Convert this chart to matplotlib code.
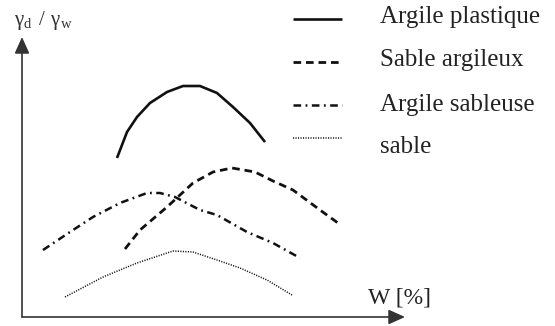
import matplotlib
matplotlib.use("Agg")
import matplotlib.pyplot as plt

plt.rcParams["lines.scale_dashes"] = False

# curves (x = water content, y = dry density, arbitrary units)
w_plast = [95, 105, 115, 128, 145, 161, 178, 195, 211, 228, 243]
g_plast = [159, 185, 200, 214, 225, 231, 231, 224, 210, 194, 175]

w_sab_arg = [103, 118, 145, 171, 191, 210, 233, 251, 271, 298, 316]
g_sab_arg = [68, 87, 110, 134, 145, 149, 145, 136, 127, 107, 94]

w_arg_sab = [21, 48, 71, 98, 125, 138, 153, 178, 195, 225, 251, 278]
g_arg_sab = [67, 85, 100, 114, 124, 124, 120, 107, 102, 85, 74, 59]

w_sable = [43, 81, 115, 151, 171, 195, 218, 245, 270]
g_sable = [20, 40, 54, 66, 65, 57, 49, 37, 22]

labels = ["Argile plastique", "Sable argileux", "Argile sableuse", "sable"]

styles = [
    dict(lw=1.9, linestyle="-"),
    dict(lw=2.0, dashes=(5.5, 3.5)),
    dict(lw=1.8, dashes=(5.5, 3.2, 1.3, 3.2)),
    dict(lw=1.1, dashes=(0.8, 1.0)),
]

fig = plt.figure(figsize=(5.55, 3.26), dpi=100)
ax = fig.add_axes([0, 0, 1, 1])
ax.set_xlim(-22, 533)
ax.set_ylim(-9, 317)
ax.axis("off")

ink = "#111111"
serif = "Liberation Serif"
series = [(w_plast, g_plast), (w_sab_arg, g_sab_arg),
          (w_arg_sab, g_arg_sab), (w_sable, g_sable)]
for (w, g), st in zip(series, styles):
    ax.plot(w, g, color=ink, solid_capstyle="butt", **st)

# axes with arrows
arrow = dict(arrowstyle="-|>,head_length=1.0,head_width=0.45",
             mutation_scale=10, lw=1.2, color="#333333",
             shrinkA=0, shrinkB=0)
ax.annotate("", xy=(383, 0), xytext=(0, 0), arrowprops=arrow)
ax.annotate("", xy=(0, 280), xytext=(0, 0), arrowprops=arrow)

ax.text(-8, 296, r"$\mathregular{\gamma_d\ /\ \gamma_w}$", fontsize=15,
        family=serif, color="#333333", ha="left", va="center")
ax.text(346, 19, "W [%]", fontsize=17, family=serif,
        color="#222222", ha="left", va="center")

# legend
leg_y_line = [298, 255, 212, 179]
leg_y_text = [300, 257, 212, 170]
for st, yl, yt, lab in zip(styles, leg_y_line, leg_y_text, labels):
    ax.plot([271, 320], [yl, yl], color=ink, solid_capstyle="butt", **st)
    ax.text(358, yt, lab, fontsize=18, family=serif,
            color="#222222", ha="left", va="center")

fig.savefig("out.png", dpi=100)
